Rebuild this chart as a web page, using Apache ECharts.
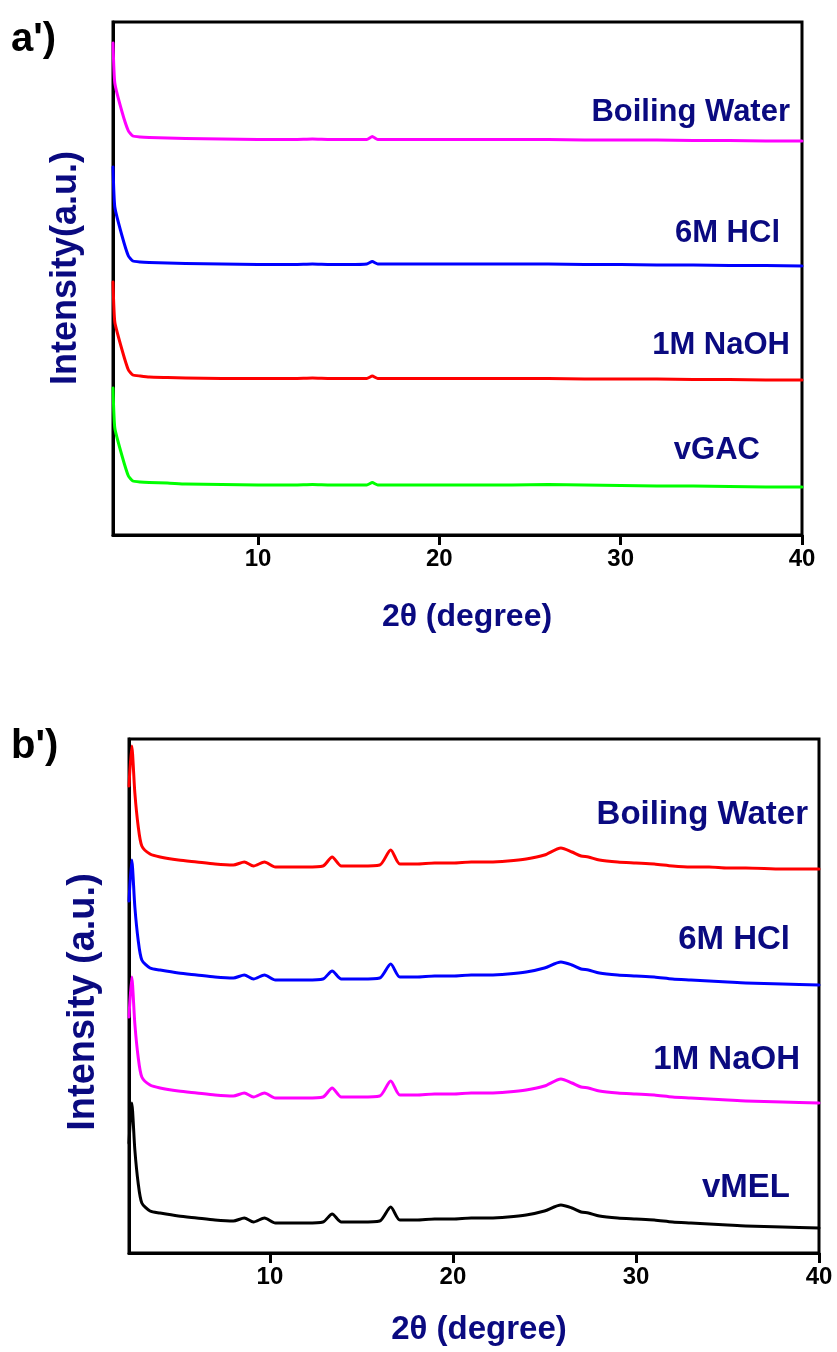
<!DOCTYPE html>
<html>
<head>
<meta charset="utf-8">
<script src="https://cdn.jsdelivr.net/npm/echarts@6/dist/echarts.min.js"></script>
<style>
html,body{margin:0;padding:0;background:#fff;}
#chart{width:837px;height:1352px;}
</style>
</head>
<body>
<div id="chart"></div>
<script>
// ---------- Panel a' data ----------
const A_X = [2.0, 2.1, 2.5, 2.85, 3.1, 3.5, 4, 5, 6, 8, 10, 12, 13, 14, 15, 16, 16.3, 16.6, 18, 20, 22, 24, 26, 28, 30, 32, 34, 36, 38, 40];
const A_BOILING = [492, 452, 423, 404, 399, 398, 397.5, 397, 396.5, 396, 395.5, 395.5, 396, 395.5, 395.5, 395.5, 398.5, 395.5, 395.5, 395.5, 395.5, 395.5, 395.5, 395, 395, 395, 394.5, 394.5, 394, 394];
const A_HCL = [368, 328, 299, 279, 274, 273, 272.5, 272, 271.5, 271, 270.5, 270.5, 271, 270.5, 270.5, 271, 273.5, 271, 271, 271, 271, 271, 271, 270.5, 270.5, 270, 270, 269.5, 269.5, 269];
const A_NAOH = [253, 213, 185, 165, 160, 159, 158, 157.5, 157, 156.5, 156.5, 156.5, 157, 156.5, 156.5, 156.5, 159, 156.5, 156.5, 156.5, 156.5, 156.5, 156.5, 156, 156, 156, 155.5, 155.5, 155, 155];
const A_VGAC = [147, 107, 79, 59, 54, 53, 52.5, 52, 51, 50.5, 50, 50, 50.5, 50, 50, 50, 52.5, 50, 50, 50, 50, 50, 50.5, 50, 49.5, 49, 49, 48.5, 48, 48];
const A_NAMES = ['Boiling Water', '6M HCl', '1M NaOH', 'vGAC'];

// ---------- Panel b' data ----------
const B_X = [2.3, 2.45, 2.62, 2.8, 3.0, 3.45, 4, 5, 6, 7, 8, 8.6, 9.1, 9.7, 10.3, 11, 12, 12.9, 13.4, 13.9, 15, 16, 16.6, 17.1, 18, 19, 20, 21, 22, 23, 24, 25, 25.9, 26.5, 27, 27.4, 28, 29, 30, 31, 32, 33, 34, 35, 36, 38, 40];
const B_BOILING = [467, 507, 460, 427, 407, 399, 396, 393, 391, 389, 388, 391, 387, 391, 386, 386, 386, 387, 396, 387, 387, 388, 403, 389, 389, 390, 390, 391, 391, 392, 394, 398, 405, 401, 397, 396, 393, 391, 390, 389, 387, 386, 386, 385, 385, 384, 384];
const B_HCL = [352, 393, 346, 313, 293, 285, 283, 280, 278, 276, 275, 278, 274, 278, 273, 273, 273, 274, 282, 274, 274, 275, 289, 276, 276, 277, 277, 278, 278, 279, 281, 285, 291, 288, 284, 283, 280, 278, 277, 276, 274, 273, 272, 271, 270, 269, 268];
const B_NAOH = [236, 276, 229, 196, 176, 168, 165, 162, 160, 158, 157, 160, 156, 160, 155, 155, 155, 156, 165, 156, 156, 157, 172, 158, 158, 159, 159, 160, 160, 161, 163, 167, 174, 170, 166, 165, 162, 160, 159, 158, 156, 155, 154, 153, 152, 151, 150];
const B_VMEL = [110, 150, 103, 70, 50, 42, 40, 37, 35, 33, 32, 35, 31, 35, 30, 30, 30, 31, 39, 31, 31, 32, 46, 33, 33, 34, 34, 35, 35, 36, 38, 42, 48, 45, 41, 40, 37, 35, 34, 33, 31, 30, 29, 28, 27, 26, 25];
const B_NAMES = ['Boiling Water', '6M HCl', '1M NaOH', 'vMEL'];

const X_TICKS = [10, 20, 30, 40];

const FONT = "'Liberation Sans', Arial, sans-serif";
const NAVY = '#0a0a80';

function pairs(xs, ys) { return xs.map((x, i) => [x, ys[i]]); }

function lineSeries(name, xi, xs, ys, color, smooth) {
  return {
    type: 'line', name: name, xAxisIndex: xi, yAxisIndex: xi,
    data: pairs(xs, ys), showSymbol: false, symbol: 'none', smooth: smooth,
    lineStyle: { color: color, width: 3, join: 'round', cap: 'round' },
    clip: true, animation: false, z: 3
  };
}

function xAxisCfg(gi, min) {
  return {
    gridIndex: gi, type: 'value', min: min, max: 40,
    axisLine: { show: true, lineStyle: { color: '#000', width: 3 } },
    axisTick: { show: true, customValues: X_TICKS, inside: false, length: 10, lineStyle: { color: '#000', width: 3 } },
    axisLabel: { show: true, customValues: X_TICKS, color: '#000', fontSize: 24, fontWeight: 'bold', fontFamily: FONT, margin: 12 },
    splitLine: { show: false }
  };
}
function yAxisCfg(gi, max) {
  return {
    gridIndex: gi, type: 'value', min: 0, max: max,
    axisLine: { show: true, lineStyle: { color: '#000', width: 3 } },
    axisTick: { show: false }, axisLabel: { show: false }, splitLine: { show: false }
  };
}

function txt(x, y, text, opts, extra) {
  return Object.assign({
    type: 'text', x: x, y: y, z: 10,
    style: Object.assign({ text: text, fill: NAVY, font: 'bold 30px ' + FONT, align: 'right', verticalAlign: 'middle' }, opts || {})
  }, extra || {});
}

const chart = echarts.init(document.getElementById('chart'), null, { renderer: 'canvas' });
const option = {
  backgroundColor: '#fff',
  animation: false,
  grid: [
    { left: 113, top: 22, width: 689, height: 513, show: true, borderColor: '#000', borderWidth: 3, backgroundColor: 'transparent' },
    { left: 129, top: 739, width: 690, height: 514, show: true, borderColor: '#000', borderWidth: 3, backgroundColor: 'transparent' }
  ],
  xAxis: [xAxisCfg(0, 2), xAxisCfg(1, 2.3)],
  yAxis: [yAxisCfg(0, 513), yAxisCfg(1, 514)],
  series: [
    lineSeries(A_NAMES[0], 0, A_X, A_BOILING, '#ff00ff', 0.15),
    lineSeries(A_NAMES[1], 0, A_X, A_HCL, '#0000ff', 0.15),
    lineSeries(A_NAMES[2], 0, A_X, A_NAOH, '#ff0000', 0.15),
    lineSeries(A_NAMES[3], 0, A_X, A_VGAC, '#00ff00', 0.15),
    lineSeries(B_NAMES[0], 1, B_X, B_BOILING, '#ff0000', 0.25),
    lineSeries(B_NAMES[1], 1, B_X, B_HCL, '#0000ff', 0.25),
    lineSeries(B_NAMES[2], 1, B_X, B_NAOH, '#ff00ff', 0.25),
    lineSeries(B_NAMES[3], 1, B_X, B_VMEL, '#000000', 0.25)
  ],
  graphic: [
    // panel letters
    txt(11, 40, "a')", { fill: '#000', font: 'bold 40px ' + FONT, align: 'left' }),
    txt(11, 747, "b')", { fill: '#000', font: 'bold 40px ' + FONT, align: 'left' }),
    // series labels panel a'
    txt(790, 112, A_NAMES[0], { font: 'bold 31px ' + FONT }),
    txt(780, 233, A_NAMES[1], { font: 'bold 31px ' + FONT }),
    txt(790, 345, A_NAMES[2], { font: 'bold 31px ' + FONT }),
    txt(760, 450, A_NAMES[3], { font: 'bold 31px ' + FONT }),
    // series labels panel b'
    txt(808, 815, B_NAMES[0], { font: 'bold 33px ' + FONT }),
    txt(790, 940, B_NAMES[1], { font: 'bold 33px ' + FONT }),
    txt(800, 1060, B_NAMES[2], { font: 'bold 33px ' + FONT }),
    txt(790, 1188, B_NAMES[3], { font: 'bold 33px ' + FONT }),
    // x axis titles
    txt(467, 617, '2θ (degree)', { font: 'bold 32px ' + FONT, align: 'center' }),
    txt(479, 1330, '2θ (degree)', { font: 'bold 33px ' + FONT, align: 'center' }),
    // y axis titles
    { type: 'text', x: 66, y: 268, rotation: Math.PI / 2, z: 10,
      style: { text: 'Intensity(a.u.)', fill: NAVY, font: 'bold 36px ' + FONT, align: 'center', verticalAlign: 'middle' } },
    { type: 'text', x: 84, y: 1002, rotation: Math.PI / 2, z: 10,
      style: { text: 'Intensity (a.u.)', fill: NAVY, font: 'bold 38px ' + FONT, align: 'center', verticalAlign: 'middle' } }
  ]
};
chart.setOption(option);
</script>
</body>
</html>
